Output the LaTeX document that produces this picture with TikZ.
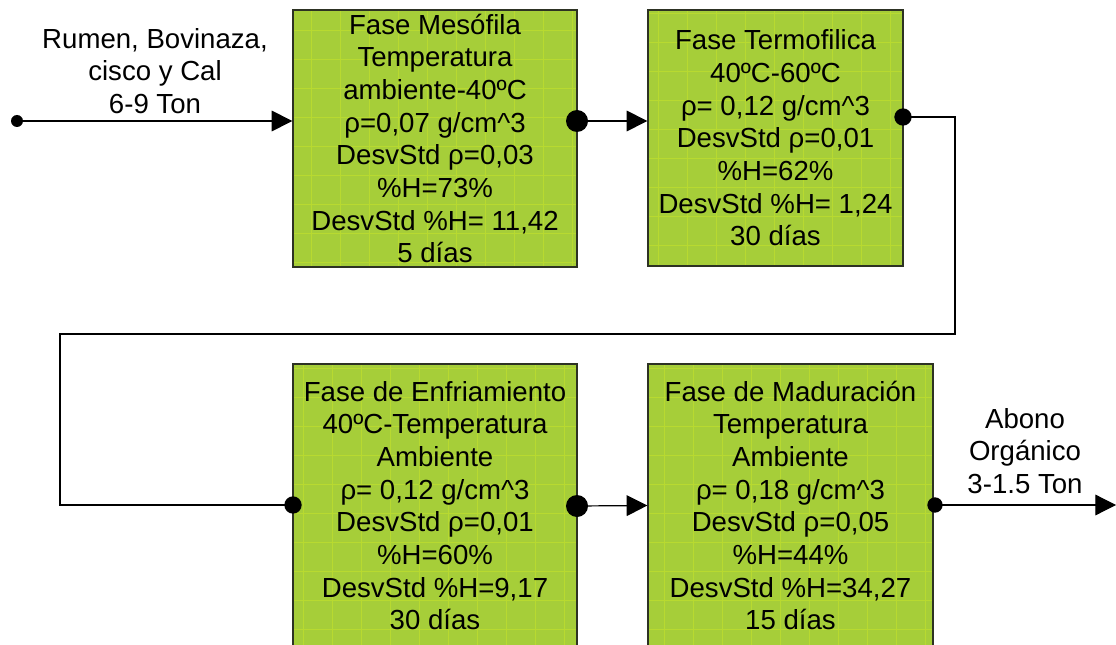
\documentclass[tikz,border=0pt]{standalone}
\usepackage{fontspec}
\setmainfont{Liberation Sans}
\usetikzlibrary{arrows.meta}

\definecolor{faseverde}{RGB}{166,206,57}
\definecolor{faserejilla}{RGB}{184,218,48}
\definecolor{faseborde}{RGB}{45,50,35}

\tikzset{
	fase/.style={draw=faseborde, fill=faseverde, line width=1pt, align=center, inner sep=0pt,
		font=\fontsize{20.7}{24.5}\selectfont,
		path picture={\draw[faserejilla, line width=0.6pt, step=21.75pt] (path picture bounding box.south west) grid (path picture bounding box.north east);}},
	etiqueta/.style={align=center, inner sep=0pt, font=\fontsize{20.7}{24.5}\selectfont},
	flecha/.style={line width=0.9pt, -{Triangle[length=15.5pt, width=15.5pt]}},
	linea/.style={line width=0.9pt},
	lazo/.style={line width=1.6pt}
}
\tikzset{every picture/.style={line width=0.75pt}}

\begin{document}
\begin{tikzpicture}[x=0.75pt,y=0.75pt,yscale=-1,xscale=1]
	\useasboundingbox (0,0) rectangle (1116,645);

	%Fases
	\node[fase, minimum width=213pt, minimum height=192.75pt] (mesofila) at (435,138.5) {Fase Mesófila\\Temperatura\\ambiente-40ºC\\ρ=0,07 g/cm\^{}3\\DesvStd ρ=0,03\\\%H=73\%\\DesvStd \%H= 11,42\\5 días};
	\node[fase, minimum width=191.25pt, minimum height=192pt] (termofilica) at (775.5,138) {Fase Termofilica\\40ºC-60ºC\\ρ= 0,12 g/cm\^{}3\\DesvStd ρ=0,01\\\%H=62\%\\DesvStd \%H= 1,24\\30 días};
	\node[fase, minimum width=213pt, minimum height=212.25pt] (enfriamiento) at (435,505.5) {Fase de Enfriamiento\\40ºC-Temperatura\\Ambiente\\ρ= 0,12 g/cm\^{}3\\DesvStd ρ=0,01\\\%H=60\%\\DesvStd \%H=9,17\\30 días};
	\node[fase, minimum width=213.75pt, minimum height=212.25pt] (maduracion) at (790.5,505.5) {Fase de Maduración\\Temperatura\\Ambiente\\ρ= 0,18 g/cm\^{}3\\DesvStd ρ=0,05\\\%H=44\%\\DesvStd \%H=34,27\\15 días};

	%Puntos de union
	\coordinate (entrada) at (17,121);
	\coordinate (p1) at (577,121);
	\coordinate (p2) at (903,117);
	\coordinate (p3) at (293,505);
	\coordinate (p4) at (577,506);
	\coordinate (p5) at (935,505);
	\coordinate (salida) at (1116,505);
	\coordinate (q1) at (955,334);
	\coordinate (q2) at (60,334);

	%Conectores
	\draw[flecha] (entrada) -- (entrada -| mesofila.west);
	\draw[flecha] (p1) -- (p1 -| termofilica.west);
	\draw[lazo] (p2) -| (q1) -- (q2) |- (p3);
	\draw[flecha] (p4) -- (maduracion.west);
	\draw[flecha] (p5) -- (salida);

	\fill (entrada) circle[radius=4.5pt];
	\fill (p1) circle[radius=8.25pt];
	\fill (p2) circle[radius=6.5pt];
	\fill (p3) circle[radius=6.5pt];
	\fill (p4) circle[radius=8.25pt];
	\fill (p5) circle[radius=5.75pt];

	% Text Node
	\node[etiqueta] (insumos) at (155,71) {Rumen, Bovinaza,\\cisco y Cal\\6-9 Ton};
	% Text Node
	\node[etiqueta] (abono) at (1025,451) {Abono\\Orgánico\\3-1.5 Ton};

\end{tikzpicture}
\end{document}
